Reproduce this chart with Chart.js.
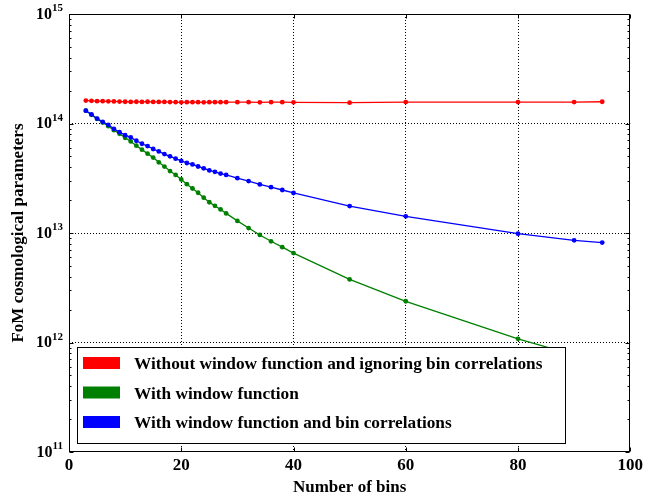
<!DOCTYPE html>
<html>
<head>
<meta charset="utf-8">
<script src="https://cdn.jsdelivr.net/npm/chart.js@4.4.1/dist/chart.umd.min.js"></script>
<style>
  html, body { margin: 0; padding: 0; background: #fff; }
  #wrap { width: 646px; height: 499px; }
</style>
</head>
<body>
<div id="wrap"><canvas id="fomChart" width="646" height="499"></canvas></div>
<script>
// number of bins
const bins = [3, 4, 5, 6, 7, 8, 9, 10, 11, 12, 13, 14, 15, 16, 17, 18, 19, 20, 21, 22, 23, 24, 25, 26, 27, 28,
  30, 32, 34, 36, 38, 40, 50, 60, 80, 90, 95];
// the window-function run stops under the legend box
const binsWindow = [3, 4, 5, 6, 7, 8, 9, 10, 11, 12, 13, 14, 15, 16, 17, 18, 19, 20, 21, 22, 23, 24, 25, 26, 27, 28,
  30, 32, 34, 36, 38, 40, 50, 60, 80, 87];

// FoM, no window function, bin correlations ignored
const fomNoWindow = [1.62e14, 1.61e14, 1.60e14, 1.60e14, 1.595e14, 1.59e14, 1.585e14, 1.58e14, 1.575e14, 1.58e14,
  1.575e14, 1.58e14, 1.575e14, 1.575e14, 1.575e14, 1.57e14, 1.565e14, 1.56e14, 1.565e14, 1.565e14,
  1.565e14, 1.56e14, 1.565e14, 1.565e14, 1.565e14, 1.565e14,
  1.565e14, 1.565e14, 1.56e14, 1.565e14, 1.565e14, 1.56e14, 1.55e14, 1.57e14, 1.57e14, 1.57e14, 1.58e14];

// FoM with window function
const fomWindow = [1.31e14, 1.20e14, 1.10e14, 1.02e14, 9.45e13, 8.69e13, 8.06e13, 7.41e13, 6.86e13, 6.27e13,
  5.77e13, 5.30e13, 4.88e13, 4.42e13, 4.04e13, 3.68e13, 3.39e13, 3.08e13, 2.79e13, 2.55e13,
  2.33e13, 2.10e13, 1.91e13, 1.77e13, 1.64e13, 1.51e13,
  1.29e13, 1.11e13, 9.6e12, 8.4e12, 7.43e12, 6.55e12, 3.77e12, 2.38e12, 1.08e12, 8.5e11];

// FoM with window function and bin correlations
const fomWindowCorr = [1.31e14, 1.21e14, 1.11e14, 1.035e14, 9.73e13, 8.95e13, 8.34e13, 7.83e13, 7.46e13, 6.96e13,
  6.53e13, 6.22e13, 5.85e13, 5.56e13, 5.26e13, 5.01e13, 4.77e13, 4.55e13, 4.36e13, 4.23e13,
  4.05e13, 3.90e13, 3.73e13, 3.62e13, 3.49e13, 3.39e13,
  3.17e13, 2.98e13, 2.78e13, 2.62e13, 2.47e13, 2.32e13, 1.76e13, 1.42e13, 9.86e12, 8.57e12, 8.17e12];

const seriesLabels = [
  "Without window function and ignoring bin correlations",
  "With window function",
  "With window function and bin correlations"
];
const seriesColors = ["#ff0000", "#008000", "#0000ff"];

const xTicks = [0, 20, 40, 60, 80, 100];
const yExponents = [11, 12, 13, 14, 15];

const FONT = "'Liberation Serif', 'DejaVu Serif', serif";

function toPoints(xs, ys) {
  return xs.map((b, i) => ({ x: b, y: ys[i] }));
}

function isDecade(v) {
  const l = Math.log10(v);
  return Math.abs(l - Math.round(l)) < 1e-9;
}

// frame, inner ticks, y labels with exponents and the legend box
const framePlugin = {
  id: "frame",
  afterDatasetsDraw(chart) {
    const { ctx, chartArea: a, scales } = chart;
    const x = scales.x, y = scales.y;
    const L = Math.round(a.left) + 0.5, R = Math.round(a.right) - 0.5;
    const T = Math.round(a.top) + 0.5, B = Math.round(a.bottom) - 0.5;
    ctx.save();
    ctx.strokeStyle = "#000";
    ctx.lineWidth = 1;

    // inner tick marks
    ctx.beginPath();
    xTicks.forEach(v => {
      const px = Math.round(x.getPixelForValue(v)) + 0.5;
      ctx.moveTo(px, B); ctx.lineTo(px, B - 4);
      ctx.moveTo(px, T); ctx.lineTo(px, T + 4);
    });
    for (let e = 11; e <= 15; e++) {
      for (let m = 1; m <= 9; m++) {
        if (e === 15 && m > 1) break;
        const py = Math.round(y.getPixelForValue(m * Math.pow(10, e))) + 0.5;
        const len = m === 1 ? 4 : 2;
        ctx.moveTo(L, py); ctx.lineTo(L + len, py);
        ctx.moveTo(R, py); ctx.lineTo(R - len, py);
      }
    }
    ctx.stroke();
    ctx.strokeRect(L, T, R - L, B - T);

    // y tick labels 10^n
    ctx.fillStyle = "#000";
    yExponents.forEach(e => {
      const py = y.getPixelForValue(Math.pow(10, e));
      const exp = String(e);
      ctx.font = "bold 11px " + FONT;
      const ew = ctx.measureText(exp).width;
      const right = a.left - 6;
      ctx.textAlign = "left";
      ctx.textBaseline = "alphabetic";
      ctx.fillText(exp, right - ew, py - 3);
      ctx.font = "bold 16px " + FONT;
      ctx.textAlign = "right";
      ctx.fillText("10", right - ew, py + 4.5);
    });

    // legend
    const bx = 77.5, by = 347.5, bw = 488, bh = 96;
    ctx.fillStyle = "#fff";
    ctx.fillRect(bx, by, bw, bh);
    ctx.strokeRect(bx, by, bw, bh);
    ctx.font = "bold 17.3px " + FONT;
    ctx.textAlign = "left";
    ctx.textBaseline = "alphabetic";
    chart.data.datasets.forEach((ds, i) => {
      const base = 369 + i * 29.5;
      ctx.fillStyle = ds.borderColor;
      ctx.fillRect(83, base - 12, 37, 12);
      ctx.fillStyle = "#000";
      ctx.fillText(ds.label, 134, base);
    });
    ctx.restore();
  }
};

new Chart(document.getElementById("fomChart"), {
  type: "line",
  data: {
    datasets: [
      { label: seriesLabels[0], data: toPoints(bins, fomNoWindow), order: 3 },
      { label: seriesLabels[1], data: toPoints(binsWindow, fomWindow), order: 2 },
      { label: seriesLabels[2], data: toPoints(bins, fomWindowCorr), order: 1 }
    ].map((d, i) => Object.assign(d, {
      borderColor: seriesColors[i],
      backgroundColor: seriesColors[i],
      borderWidth: 1.3,
      pointRadius: 2.4,
      pointBorderWidth: 0,
      tension: 0,
      fill: false
    }))
  },
  options: {
    responsive: false,
    animation: false,
    devicePixelRatio: 1,
    layout: { padding: { top: 14, right: 12, left: 0, bottom: 0 } },
    plugins: { legend: { display: false }, tooltip: { enabled: false } },
    scales: {
      x: {
        type: "linear",
        min: 0,
        max: 100,
        afterFit(s) { s.height = 47; },
        ticks: {
          stepSize: 20,
          color: "#000",
          padding: 3,
          font: { family: FONT, size: 17, weight: "bold" }
        },
        grid: {
          drawTicks: false,
          lineWidth: 1,
          color: c => {
            const v = c.tick && c.tick.value;
            return (v > 0 && v < 100) ? "#000" : "rgba(0,0,0,0)";
          }
        },
        border: { display: false, dash: [1, 2] },
        title: {
          display: true,
          text: "Number of bins",
          color: "#000",
          padding: { top: 0, bottom: 1 },
          font: { family: FONT, size: 17, weight: "bold" }
        }
      },
      y: {
        type: "logarithmic",
        min: 1e11,
        max: 1e15,
        afterFit(s) { s.width = 69; },
        ticks: { display: false },
        grid: {
          drawTicks: false,
          lineWidth: 1,
          color: c => {
            const v = c.tick && c.tick.value;
            return (v && isDecade(v) && v > 1.01e11 && v < 0.99e15) ? "#000" : "rgba(0,0,0,0)";
          }
        },
        border: { display: false, dash: [1, 2] },
        title: {
          display: true,
          text: "FoM cosmological parameters",
          color: "#000",
          padding: { top: 8, bottom: 0 },
          font: { family: FONT, size: 17, weight: "bold" }
        }
      }
    }
  },
  plugins: [framePlugin]
});
</script>
</body>
</html>
